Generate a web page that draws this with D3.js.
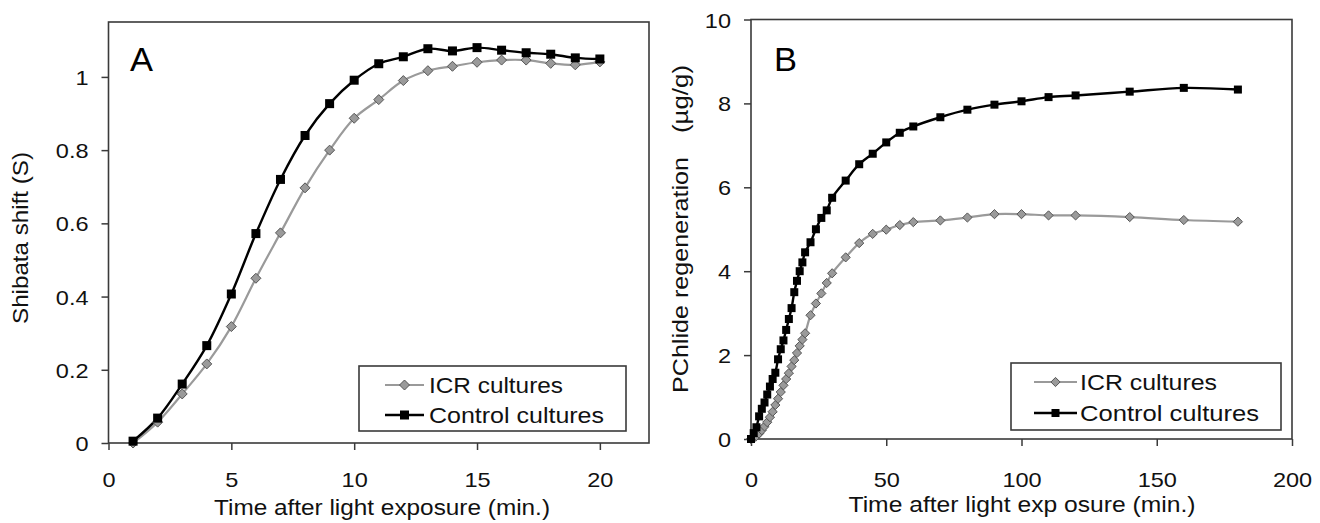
<!DOCTYPE html>
<html><head><meta charset="utf-8">
<script src="https://cdn.jsdelivr.net/npm/d3@7"></script>
<style>
html,body{margin:0;padding:0;background:#fff;}
svg{display:block;font-family:"Liberation Sans",Arial,sans-serif;}
</style></head>
<body>
<svg id="c" width="1320" height="523"></svg>
<script>
// ---------- Data ----------
const seriesNames = ["ICR cultures", "Control cultures"];

// Panel A
const timeA = [1,2,3,4,5,6,7,8,9,10,11,12,13,14,15,16,17,18,19,20];
const icrA  = [0,0.057,0.134,0.216,0.318,0.45,0.574,0.697,0.80,0.887,0.938,0.99,1.017,1.029,1.040,1.046,1.046,1.037,1.033,1.041];
const ctrlA = [0.005,0.068,0.161,0.266,0.407,0.572,0.72,0.84,0.927,0.991,1.036,1.055,1.077,1.071,1.080,1.073,1.066,1.062,1.052,1.049];
const xTicksA = [0,5,10,15,20];
const yTicksA = [0,0.2,0.4,0.6,0.8,1];

// Panel B
const timeB = [0,1,2,3,4,5,6,7,8,9,10,11,12,13,14,15,16,17,18,19,20,22,24,26,28,30,35,40,45,50,55,60,70,80,90,100,110,120,140,160,180];
const icrB  = [0,0.02,0.07,0.13,0.21,0.30,0.40,0.52,0.65,0.81,0.96,1.12,1.28,1.43,1.57,1.73,1.88,2.05,2.22,2.37,2.52,2.95,3.23,3.47,3.72,3.95,4.33,4.67,4.89,4.99,5.10,5.17,5.21,5.28,5.36,5.36,5.33,5.33,5.29,5.22,5.18];
const ctrlB = [0,0.14,0.28,0.54,0.72,0.87,1.06,1.25,1.43,1.58,1.9,2.14,2.35,2.6,2.86,3.12,3.5,3.77,4.0,4.21,4.45,4.69,5.0,5.27,5.45,5.75,6.16,6.55,6.80,7.07,7.30,7.45,7.67,7.85,7.97,8.05,8.15,8.19,8.28,8.37,8.33];
const xTicksB = [0,50,100,150,200];
const yTicksB = [0,2,4,6,8,10];

// ---------- Drawing ----------
const svg = d3.select("#c");
svg.append("rect").attr("width",1320).attr("height",523).attr("fill","#fff");

const frameColor = "#3a3a3a";
const icrColor = "#9a9a9a";
const ctrlColor = "#000";
const FONT = "'Liberation Sans',Arial,sans-serif";

function stretch(sel, k){
  sel.each(function(){
    const w = this.getComputedTextLength();
    d3.select(this).attr("textLength", w*k).attr("lengthAdjust","spacingAndGlyphs");
  });
}

function panel(cfg){
  const g = svg.append("g");
  const x = d3.scaleLinear().domain(cfg.xDomain).range([cfg.left, cfg.right]);
  const y = d3.scaleLinear().domain(cfg.yDomain).range([cfg.bottom, cfg.top]);

  // axes
  const ax = g.append("g").attr("transform",`translate(0,${cfg.bottom})`)
    .call(d3.axisBottom(x).tickValues(cfg.xTicks).tickSizeInner(7).tickSizeOuter(0).tickFormat(d3.format("d")));
  const ay = g.append("g").attr("transform",`translate(${cfg.left},0)`)
    .call(d3.axisLeft(y).tickValues(cfg.yTicks).tickSizeInner(7).tickSizeOuter(0).tickPadding(13).tickFormat(cfg.yFmt));
  [ax,ay].forEach(a=>{
    a.select(".domain").remove();
    a.selectAll("line").attr("stroke",frameColor).attr("stroke-width",1.5);
    a.selectAll("text").attr("font-size",21).attr("fill","#111").attr("font-family",FONT);
  });
  ax.selectAll("text").attr("dy",0).attr("y",487-cfg.bottom);
  ay.selectAll("text").attr("dy","0.36em");
  stretch(ax.selectAll("text"),1.12);
  stretch(ay.selectAll("text"),1.12);

  // frame
  g.append("rect").attr("x",cfg.left).attr("y",cfg.top)
    .attr("width",cfg.right-cfg.left).attr("height",cfg.bottom-cfg.top)
    .attr("fill","none").attr("stroke",frameColor).attr("stroke-width",1.6);

  // lines
  const line = (xs,ys)=> d3.line().curve(d3.curveCatmullRom.alpha(0.5))
      .x((d,i)=>x(xs[i])).y((d,i)=>y(ys[i]))(ys);
  g.append("path").attr("d",line(cfg.time,cfg.icr)).attr("fill","none")
    .attr("stroke",icrColor).attr("stroke-width",2.2);
  g.append("path").attr("d",line(cfg.time,cfg.ctrl)).attr("fill","none")
    .attr("stroke",ctrlColor).attr("stroke-width",2.4);

  const dsz = cfg.dSize, ssz = cfg.sSize;
  g.append("g").selectAll("path").data(cfg.icr).join("path")
    .attr("d",`M0,${-dsz}L${dsz},0L0,${dsz}L${-dsz},0Z`)
    .attr("transform",(d,i)=>`translate(${x(cfg.time[i])},${y(d)})`)
    .attr("fill",icrColor).attr("stroke","#555").attr("stroke-width",1);
  g.append("g").selectAll("rect").data(cfg.ctrl).join("rect")
    .attr("x",(d,i)=>x(cfg.time[i])-ssz).attr("y",d=>y(d)-ssz)
    .attr("width",ssz*2).attr("height",ssz*2).attr("fill",ctrlColor);

  // panel letter
  g.append("text").attr("x",cfg.letterX).attr("y",71).attr("font-size",34)
    .attr("font-family",FONT).attr("textLength",23).attr("lengthAdjust","spacingAndGlyphs").text(cfg.letter);

  // x title
  g.append("text").attr("x",cfg.xTitleX).attr("y",cfg.xTitleY).attr("text-anchor","middle")
    .attr("font-size",22).attr("fill","#111").attr("textLength",cfg.xTitleLen).attr("lengthAdjust","spacingAndGlyphs")
    .text(cfg.xTitle);

  // y title(s)
  cfg.yTitles.forEach(t=>{
    g.append("text").attr("transform",`translate(${cfg.yTitleX},${t.cy}) rotate(-90)`)
      .attr("text-anchor","middle").attr("font-size",22).attr("fill","#111")
      .attr("textLength",t.len).attr("lengthAdjust","spacingAndGlyphs").text(t.text);
  });

  // legend
  const L = cfg.legend;
  const lg = g.append("g");
  lg.append("rect").attr("x",L.x0).attr("y",L.y0).attr("width",L.x1-L.x0).attr("height",L.y1-L.y0)
    .attr("fill","#fff").attr("stroke",frameColor).attr("stroke-width",1.6);
  [0,1].forEach(k=>{
    const yy = L.rows[k];
    lg.append("line").attr("x1",L.lx0).attr("x2",L.lx1).attr("y1",yy).attr("y2",yy)
      .attr("stroke",k?ctrlColor:icrColor).attr("stroke-width",k?2.4:2.2);
    const mx=(L.lx0+L.lx1)/2;
    if(k===0){
      lg.append("path").attr("d",`M0,${-dsz}L${dsz},0L0,${dsz}L${-dsz},0Z`)
        .attr("transform",`translate(${mx},${yy})`).attr("fill",icrColor).attr("stroke","#555").attr("stroke-width",1);
    } else {
      lg.append("rect").attr("x",mx-ssz).attr("y",yy-ssz).attr("width",2*ssz).attr("height",2*ssz).attr("fill",ctrlColor);
    }
    lg.append("text").attr("x",L.tx).attr("y",yy).attr("dy","0.36em").attr("font-size",22).attr("fill","#111")
      .attr("textLength",L.lens[k]).attr("lengthAdjust","spacingAndGlyphs").text(seriesNames[k]);
  });
}

panel({
  left:108.5, right:649, top:22, bottom:443,
  xDomain:[0,22], yDomain:[0,1.15],
  xTicks:xTicksA, yTicks:yTicksA, yFmt:d=>d3.format("")(d),
  time:timeA, icr:icrA, ctrl:ctrlA, dSize:5, sSize:4.5,
  letter:"A", letterX:130,
  xTitle:"Time after light exposure (min.)", xTitleX:382, xTitleY:515, xTitleLen:336,
  yTitleX:28, yTitles:[{text:"Shibata shift (S)", cy:238, len:172}],
  legend:{x0:359,x1:626,y0:366,y1:431,rows:[385,415],lx0:385,lx1:424,tx:429,lens:[134,175]}
});

panel({
  left:751, right:1292, top:19.5, bottom:439,
  xDomain:[0,200], yDomain:[0,10],
  xTicks:xTicksB, yTicks:yTicksB, yFmt:d3.format("d"),
  time:timeB, icr:icrB, ctrl:ctrlB, dSize:4.6, sSize:4,
  letter:"B", letterX:774,
  xTitle:"Time after light exp osure (min.)", xTitleX:1022, xTitleY:512, xTitleLen:347,
  yTitleX:688, yTitles:[{text:"PChlide regeneration", cy:275, len:236},{text:"(µg/g)", cy:99, len:68}],
  legend:{x0:1011,x1:1281,y0:363,y1:430,rows:[382,413],lx0:1034,lx1:1077,tx:1080,lens:[137,179]}
});
</script>
</body></html>
